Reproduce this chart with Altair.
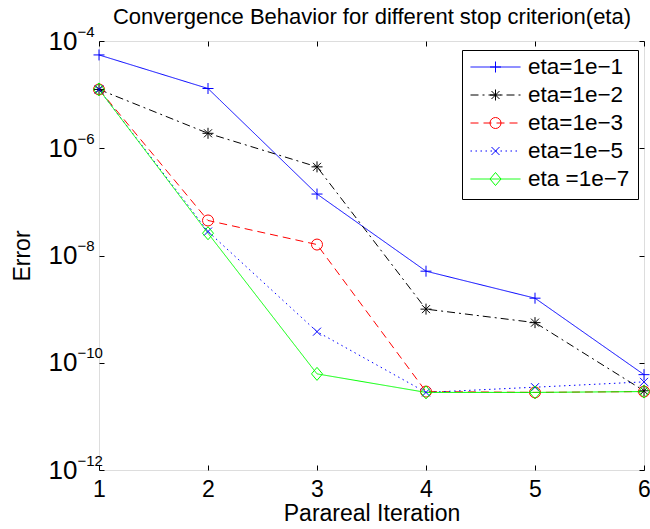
import altair as alt
import pandas as pd

FONT = "Liberation Sans"

iterations = [1, 2, 3, 4, 5, 6]
series_names = ["eta=1e\u22121", "eta=1e\u22122", "eta=1e\u22123", "eta=1e\u22125", "eta =1e\u22127"]
err_eta1 = [5.5e-5, 1.3e-5, 1.4e-7, 5.1e-9, 1.6e-9, 6.0e-11]
err_eta2 = [1.25e-5, 1.9e-6, 4.5e-7, 1.0e-9, 5.6e-10, 3.0e-11]
err_eta3 = [1.25e-5, 4.5e-8, 1.6e-8, 2.9e-11, 2.8e-11, 2.9e-11]
err_eta5 = [1.25e-5, 2.8e-8, 3.8e-10, 2.8e-11, 3.5e-11, 4.4e-11]
err_eta7 = [1.25e-5, 2.6e-8, 6.2e-11, 2.8e-11, 2.8e-11, 2.9e-11]
all_errors = [err_eta1, err_eta2, err_eta3, err_eta5, err_eta7]

colors = ["#0000ff", "#000000", "#ff0000", "#0000ff", "#00ff00"]
dashes = [[1, 0], [8, 4, 2, 4], [8, 5], [1.5, 3.5], [1, 0]]
markers = [
    "M-0.22,0L0.22,0M0,-0.22L0,0.22",
    "M-0.22,0L0.22,0M0,-0.22L0,0.22M-0.16,-0.16L0.16,0.16M-0.16,0.16L0.16,-0.16",
    "M-0.22,0A0.22,0.22 0 1,0 0.22,0A0.22,0.22 0 1,0 -0.22,0Z",
    "M-0.16,-0.16L0.16,0.16M-0.16,0.16L0.16,-0.16",
    "M0,-0.26L0.22,0L0,0.26L-0.22,0Z",
]
y_tick_values = [1e-4, 1e-6, 1e-8, 1e-10, 1e-12]
chart_title = "Convergence Behavior for different stop criterion(eta)"

rows = []
for name, errs in zip(series_names, all_errors):
    for it, e in zip(iterations, errs):
        rows.append({"series": name, "iter": it, "err": e})
df = pd.DataFrame(rows)

W, H = 545, 429
xscale = alt.Scale(domain=[1, 6], nice=False, zero=False)
yscale = alt.Scale(type="log", domain=[1e-12, 1e-4], nice=False)

leg_common = dict(
    orient="none", legendX=363, legendY=9, title=None, padding=8,
    clipHeight=18, rowPadding=5, labelFont=FONT, labelFontSize=22.5,
    labelLimit=400, symbolSize=2500, symbolStrokeWidth=1, labelOffset=7,
)
legA = alt.Legend(symbolType="M-1,0L1,0", strokeColor="black", labelColor="black", **leg_common)
legB = alt.Legend(labelOpacity=0, **leg_common)

tick_common = dict(labels=False, domain=False, grid=False, ticks=True,
                   tickSize=5, tickColor="black", tickWidth=1, title=None)

axX1 = alt.Axis(values=iterations, orient="bottom", format="d", labelFont=FONT, labelFontSize=23,
                labelColor="black", labelPadding=8, ticks=False, tickSize=0,
                domain=False, grid=False, labelFlush=False, labelOverlap=False,
                title="Parareal Iteration", titleFont=FONT, titleFontSize=23,
                titleFontWeight="normal", titleColor="black",
                titleBaseline="alphabetic", titleY=50, titleX=W / 2)
axX2 = alt.Axis(values=iterations, orient="top", offset=-H, **tick_common)
axX3 = alt.Axis(values=iterations, orient="bottom", offset=-H, **tick_common)
axX4 = alt.Axis(values=iterations, orient="top", labels=False, ticks=False, tickSize=0,
                domain=False, grid=False, title=chart_title, titleFont=FONT,
                titleFontSize=22, titleFontWeight="normal", titleColor="black",
                titleBaseline="alphabetic", titleAlign="center", titleX=W / 2, titleY=-18)

axY1 = alt.Axis(values=y_tick_values, orient="left", labelExpr="'10'", labelFont=FONT, labelFontSize=26,
                labelColor="black", labelAlign="right", labelBaseline="middle",
                labelPadding=22, ticks=False, tickSize=0, domain=False, grid=False,
                labelOverlap=False, title="Error", titleFont=FONT, titleFontSize=23,
                titleFontWeight="normal", titleColor="black", titleAngle=270,
                titleBaseline="alphabetic", titleAlign="center", titleX=-70, titleY=H / 2)
axY2 = alt.Axis(values=y_tick_values, orient="left",
                labelExpr="'\u2212' + round(-log(datum.value)/LN10)",
                labelFont=FONT, labelFontSize=15, labelColor="black", labelAlign="left",
                labelBaseline="middle", labelPadding=22, labelOffset=-10, ticks=False,
                tickSize=0, domain=False, grid=False, labelOverlap=False, title=None)
axY3 = alt.Axis(values=y_tick_values, orient="right", offset=-W, **tick_common)
axY4 = alt.Axis(values=y_tick_values, orient="left", offset=-W, **tick_common)

base = alt.Chart(df)

lines = base.mark_line(strokeWidth=1, clip=True).encode(
    x=alt.X("iter:Q", scale=xscale, axis=axX1),
    y=alt.Y("err:Q", scale=yscale, axis=axY1),
    color=alt.Color("series:N", scale=alt.Scale(domain=series_names, range=colors), legend=legA),
    strokeDash=alt.StrokeDash("series:N", scale=alt.Scale(domain=series_names, range=dashes), legend=legA),
)

points = base.mark_point(filled=False, size=2500, strokeWidth=1, opacity=1).encode(
    x=alt.X("iter:Q", scale=xscale, axis=axX2),
    y=alt.Y("err:Q", scale=yscale, axis=axY2),
    color=alt.Color("series:N", scale=alt.Scale(domain=series_names, range=colors), legend=legB),
    shape=alt.Shape("series:N", scale=alt.Scale(domain=series_names, range=markers), legend=legB),
)

ghost1 = base.mark_point(opacity=0).encode(
    x=alt.X("iter:Q", scale=xscale, axis=axX3),
    y=alt.Y("err:Q", scale=yscale, axis=axY3),
)
ghost2 = base.mark_point(opacity=0).encode(
    x=alt.X("iter:Q", scale=xscale, axis=axX4),
    y=alt.Y("err:Q", scale=yscale, axis=axY4),
)

chart = alt.layer(lines, points, ghost1, ghost2).resolve_scale(
    color="independent", shape="independent", strokeDash="independent"
).resolve_axis(
    x="independent", y="independent"
).resolve_legend(
    color="independent", shape="independent", strokeDash="independent"
).properties(
    width=W, height=H,
    autosize=alt.AutoSizeParams(type="none"),
    padding={"left": 99, "top": 41, "right": 6, "bottom": 59},
).configure_view(
    stroke="black", strokeWidth=1
).configure(background="white")

chart.save("out.html", embed_options={"renderer": "svg", "actions": False})
